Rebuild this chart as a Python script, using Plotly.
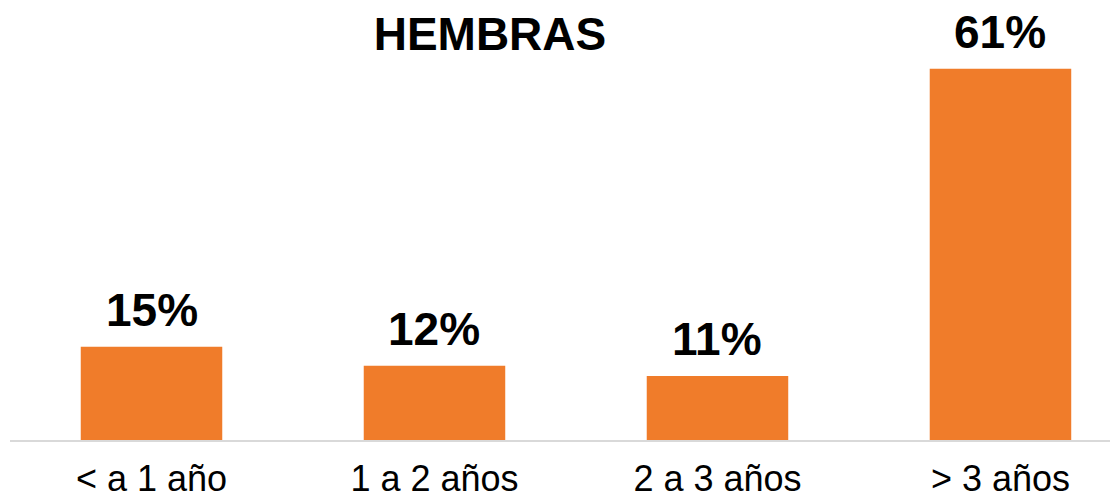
import plotly.graph_objects as go

categories = ["< a 1 año", "1 a 2 años", "2 a 3 años", "> 3 años"]
values = [15.3, 12.2, 10.5, 61.0]
labels = ["15%", "12%", "11%", "61%"]

FONT = "Liberation Sans, Arial"

fig = go.Figure()
fig.add_trace(go.Bar(
    x=categories,
    y=values,
    marker=dict(color="#F07C2A", line=dict(width=0)),
    width=0.5,
    hoverinfo="x+y",
))

for cat, val, lab in zip(categories, values, labels):
    fig.add_annotation(x=cat, y=val, text="<b>%s</b>" % lab,
                       showarrow=False, yanchor="bottom", yshift=9,
                       font=dict(family=FONT, size=46, color="#000000"))

fig.update_layout(
    width=1110, height=502,
    paper_bgcolor="white", plot_bgcolor="white",
    margin=dict(l=10, r=0, t=20, b=62, autoexpand=False),
    showlegend=False,
    title=dict(text="<b>HEMBRAS</b>", x=0.4414, xanchor="center", y=0.932, yanchor="middle",
               font=dict(family=FONT, size=46, color="#000000")),
    xaxis=dict(range=[-0.5, 3.387], showgrid=False, showline=True, linecolor="#D9D9D9",
               linewidth=2, ticks="", zeroline=False, ticklabelstandoff=6, automargin=False,
               tickfont=dict(family=FONT, size=36, color="#000000")),
    yaxis=dict(range=[0, 69], visible=False, showgrid=False, zeroline=False),
)

# drop the default body margin so the figure fills the window exactly
fig.write_html("out.html", config={"displayModeBar": False},
               post_script="document.body.style.margin='0';")
